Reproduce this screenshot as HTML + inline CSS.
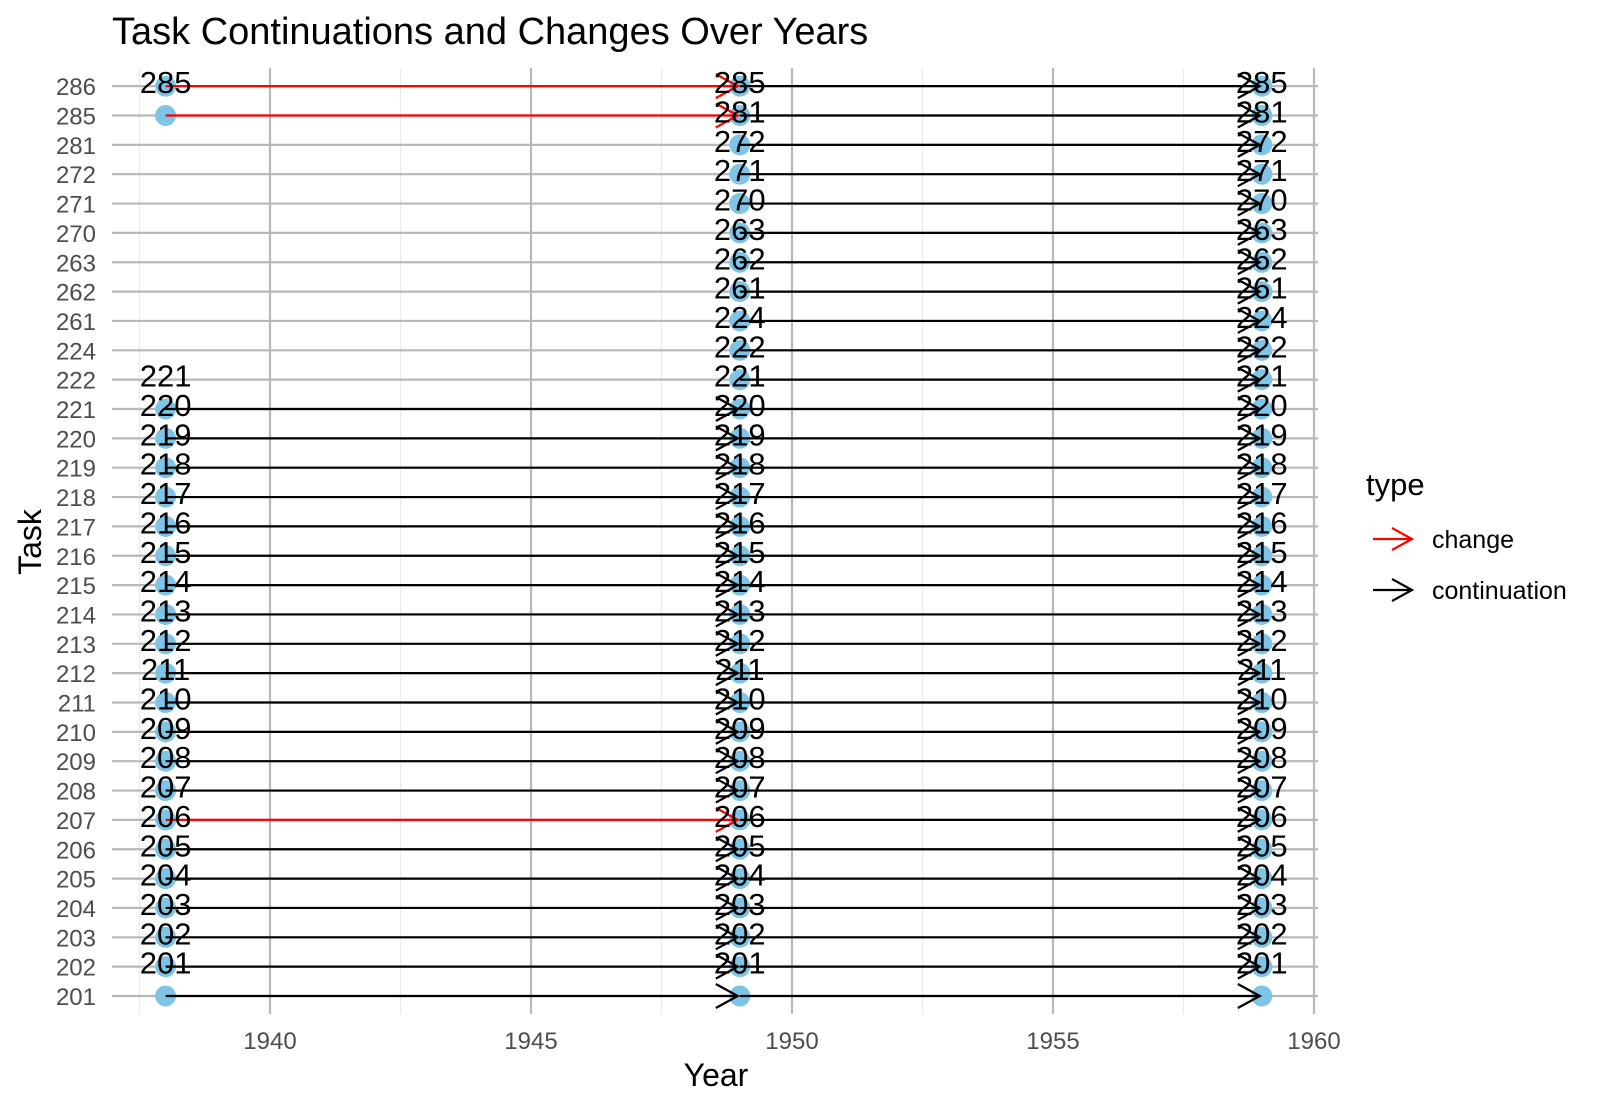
<!DOCTYPE html>
<html><head><meta charset="utf-8"><style>body{margin:0;background:#fff}svg{display:block;font-family:"Liberation Sans",Arial,sans-serif}</style></head>
<body>
<svg id="chart" width="1603" height="1106" viewBox="0 0 1603 1106" xmlns="http://www.w3.org/2000/svg">
<text x="112" y="44" font-size="38" fill="#000">Task Continuations and Changes Over Years</text>
<g id="grid"></g><g id="pts"></g><g id="segs"></g><g id="labs"></g><g id="axes"></g>
<text x="716" y="1086" font-size="32" text-anchor="middle">Year</text>
<text transform="translate(41,542) rotate(-90)" font-size="32" text-anchor="middle">Task</text>
<g>
<text x="1366" y="495" font-size="31">type</text>
<g><path d="M1373 539H1412M1392 528L1412 539L1392 550" stroke="#f00" stroke-width="2.2" fill="none"/><text x="1432" y="548" font-size="25">change</text></g>
<g><path d="M1373 590H1412M1392 579L1412 590L1392 601" stroke="#000" stroke-width="2.2" fill="none"/><text x="1432" y="599" font-size="25">continuation</text></g>
</g>
</svg>
<script>
const tasks=[201,202,203,204,205,206,207,208,209,210,211,212,213,214,215,216,217,218,219,220,221,222,224,261,262,263,270,271,272,281,285,286];
const xTicks=[1940,1945,1950,1955,1960];
const early=[201,202,203,204,205,206,207,208,209,210,211,212,213,214,215,216,217,218,219,220,221,285,286];
const earlyLabels=[201,202,203,204,205,206,207,208,209,210,211,212,213,214,215,216,217,218,219,220,221,285];
const midLabels=[201,202,203,204,205,206,207,208,209,210,211,212,213,214,215,216,217,218,219,220,221,222,224,261,262,263,270,271,272,281,285];
const seg1Tasks=[201,202,203,204,205,206,207,208,209,210,211,212,213,214,215,216,217,218,219,220,221,285,286];
const seg1Types=['c','c','c','c','c','c','x','c','c','c','c','c','c','c','c','c','c','c','c','c','c','x','x'];
const years=[1938,1949,1959];
const NS='http://www.w3.org/2000/svg';
const X=y=>270+(y-1940)*52.2;
const Yi=i=>996-i*29.35;
const Y=t=>Yi(tasks.indexOf(t));
function mk(tag,attrs,parent){const e=document.createElementNS(NS,tag);for(const k in attrs)e.setAttribute(k,attrs[k]);document.getElementById(parent).appendChild(e);return e;}
for(let v=1937.5;v<=1960;v+=5){const e=mk('line',{x1:X(v),x2:X(v),y1:68,y2:1014,stroke:'#ebebeb','stroke-width':1.2},'grid');}
xTicks.forEach(v=>{const e=mk('line',{x1:X(v),x2:X(v),y1:68,y2:1014,stroke:'#b8b8b8','stroke-width':2.2},'grid');
const t=mk('text',{x:X(v),y:1049,'font-size':24,fill:'#4d4d4d','text-anchor':'middle'},'axes');t.textContent=v;});
tasks.forEach((tk,i)=>{const e=mk('line',{x1:112,x2:1318,y1:Yi(i),y2:Yi(i),stroke:'#b8b8b8','stroke-width':2.2},'grid');
const t=mk('text',{x:96,y:Yi(i)+9,'font-size':24,fill:'#4d4d4d','text-anchor':'end'},'axes');t.textContent=tk;});
function pt(yr,tk){const c=mk('circle',{cx:X(yr),cy:Y(tk),r:10.5,fill:'#7ec4e6'},'pts');}
early.forEach(t=>pt(years[0],t));tasks.forEach(t=>{pt(years[1],t);pt(years[2],t);});
function arrow(x1,x2,y,col){const d=`M${x1} ${y}H${x2}M${x2-22} ${y-12}L${x2} ${y}L${x2-22} ${y+12}`;const p=mk('path',{d:d,stroke:col,'stroke-width':2.2,fill:'none'},'segs');}
seg1Tasks.forEach((t,i)=>arrow(X(years[0]),X(years[1])-2,Y(t),seg1Types[i]==='x'?'#f00':'#000'));
tasks.forEach(t=>arrow(X(years[1]),X(years[2])-2,Y(t),'#000'));
function lab(yr,tk){const i=tasks.indexOf(tk)+1;const t=mk('text',{x:X(yr),y:Yi(i)+7,'font-size':31,'text-anchor':'middle',fill:'#000'},'labs');t.textContent=tk;}
earlyLabels.forEach(t=>lab(years[0],t));midLabels.forEach(t=>{lab(years[1],t);lab(years[2],t);});
</script>
</body></html>
